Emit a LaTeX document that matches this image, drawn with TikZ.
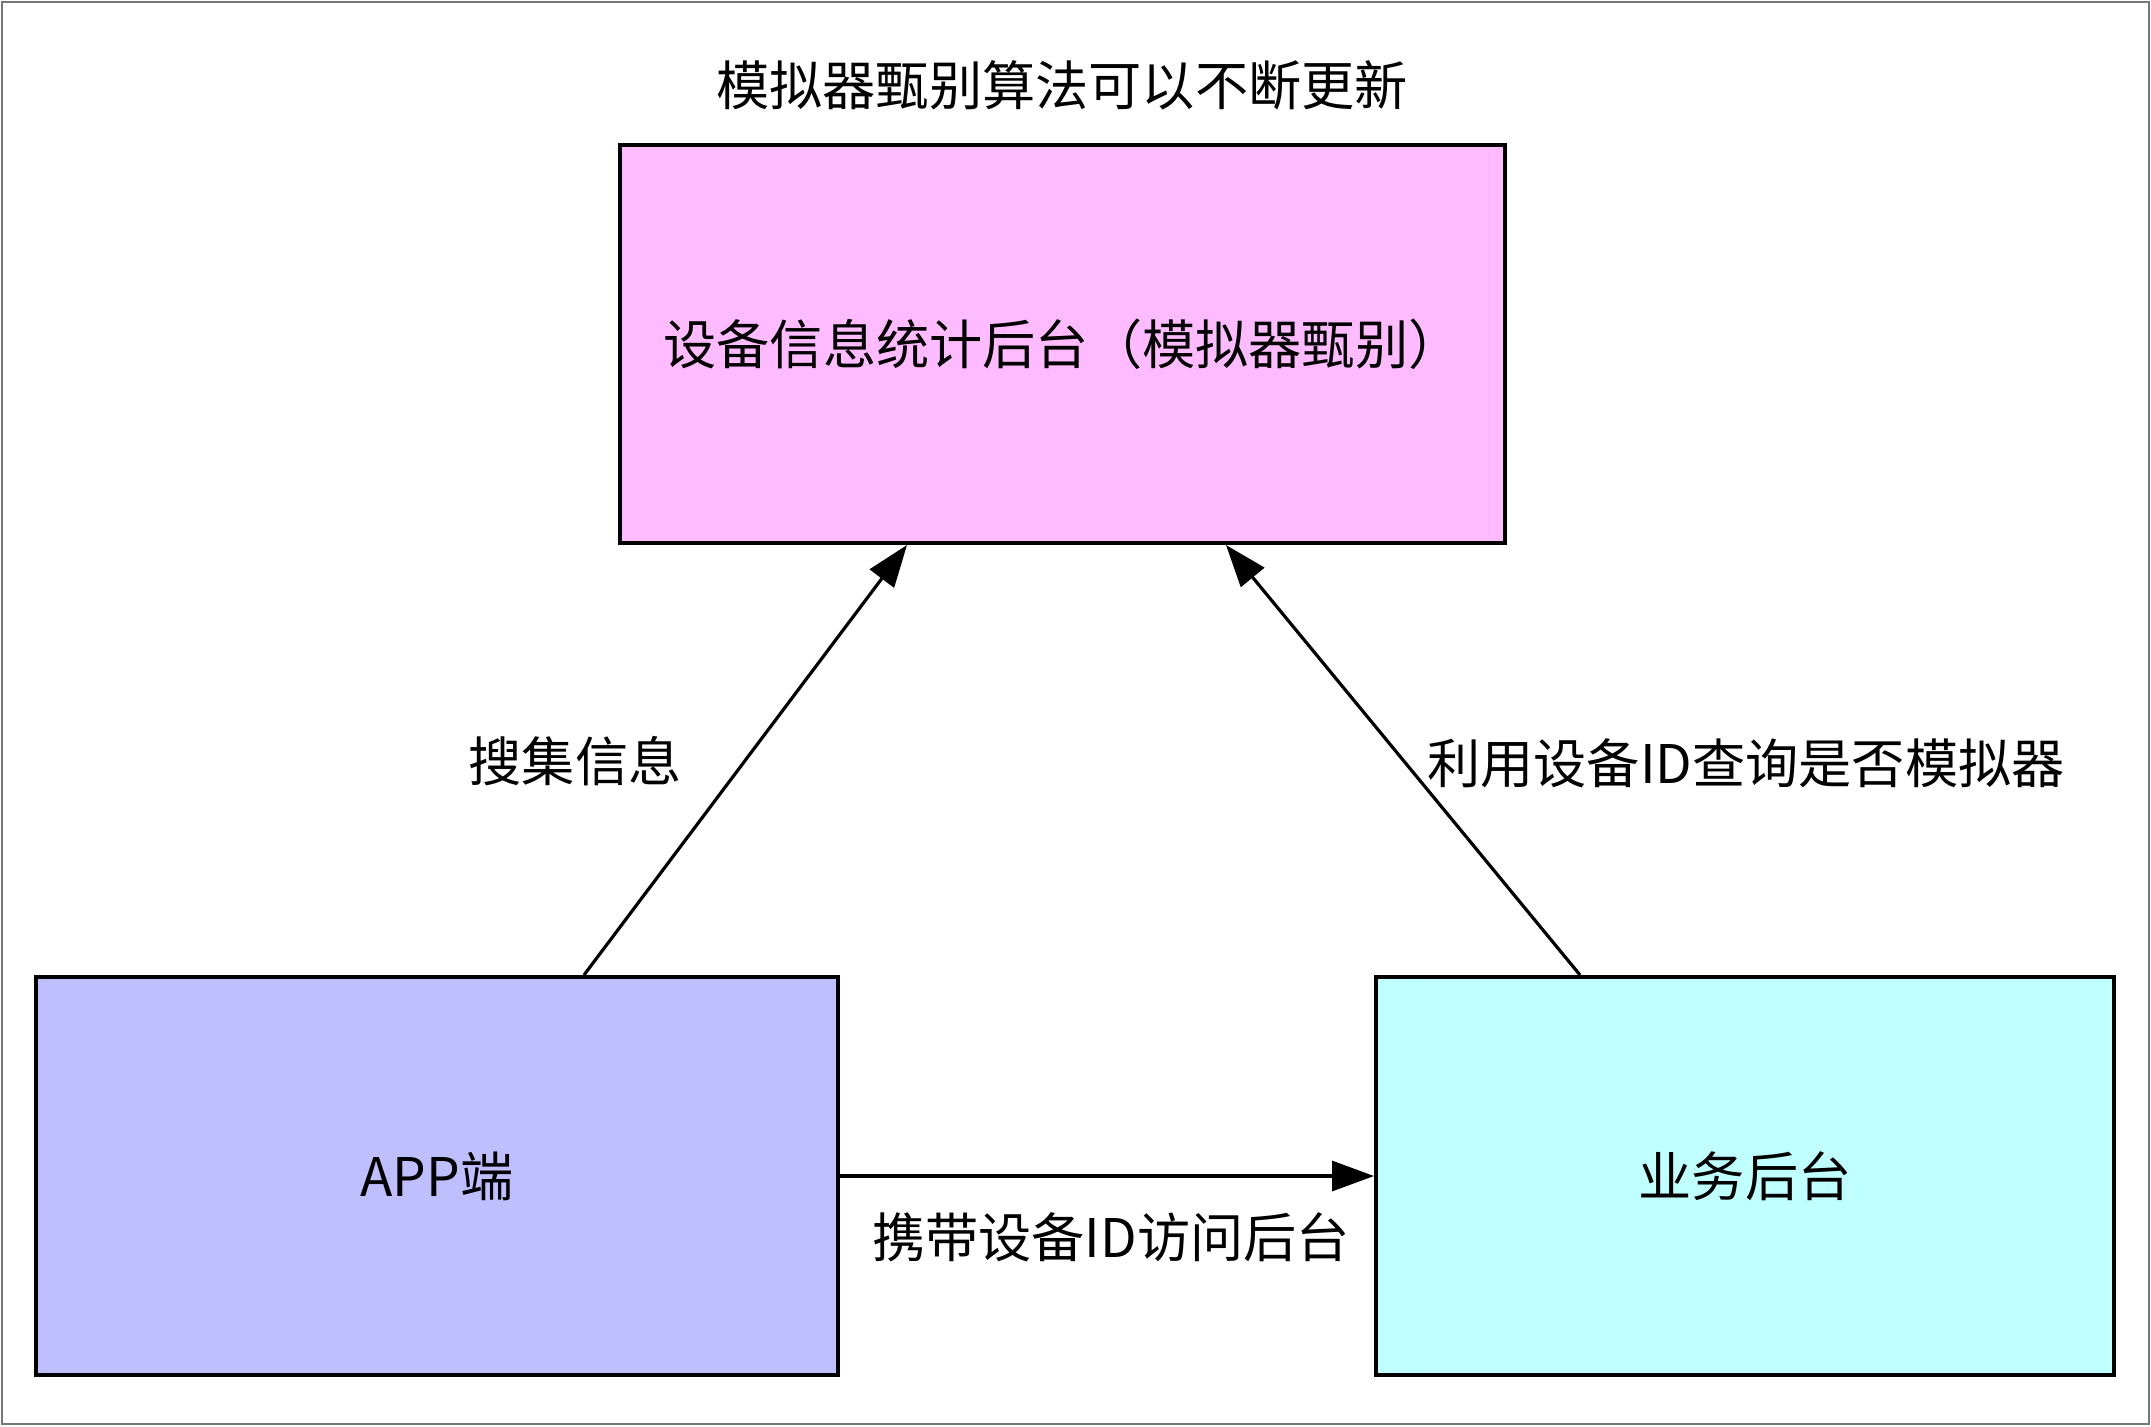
\documentclass[tikz,border=0pt]{standalone}
\usepackage{fontspec}
\setmainfont{Noto Sans CJK SC}
\usetikzlibrary{arrows.meta,calc}
\definecolor{statfill}{HTML}{FFBBFF}
\definecolor{appfill}{HTML}{BFBFFF}
\definecolor{bizfill}{HTML}{BFFFFF}
\definecolor{framegray}{HTML}{777777}
\tikzset{
  box/.style={draw=black, line width=2pt, rectangle, inner sep=0pt, minimum height=199pt, font=\fontsize{26.6pt}{30pt}\selectfont},
  lbl/.style={inner sep=0pt, font=\fontsize{26.6pt}{30pt}\selectfont},
  arr/.style={draw=black, line width=1.6pt, -{Triangle[length=21pt,width=15pt]}}
}
\begin{document}
\begin{tikzpicture}[x=0.5pt,y=-0.5pt]
\fill[white] (0,0) rectangle (2151,1426);
\useasboundingbox (0,0) rectangle (2151,1426);
\draw[framegray, line width=1pt] (2,2) rectangle (2149,1424);

\node[box, fill=statfill, minimum width=442.5pt] (stat) at (1062.5,344) {设备信息统计后台（模拟器甄别）};
\node[box, fill=appfill, minimum width=401pt] (app) at (437,1176) {APP端};
\node[box, fill=bizfill, minimum width=369pt] (biz) at (1745,1176) {业务后台};

\node[lbl] (title) at (1062,85) {模拟器甄别算法可以不断更新};
\node[lbl] (l1) at (575,761) {搜集信息};
\node[lbl] (l2) at (1746,763) {利用设备ID查询是否模拟器};
\node[lbl] (l3) at (1111,1237) {携带设备ID访问后台};

\draw[arr] ($(app.north west)+(550,0)$) -- ($(stat.south west)+(289,0)$);
\draw[arr] ($(biz.north west)+(206,0)$) -- ($(stat.south west)+(608,0)$);
\draw[arr] (app.east) -- (biz.west);
\end{tikzpicture}
\end{document}
